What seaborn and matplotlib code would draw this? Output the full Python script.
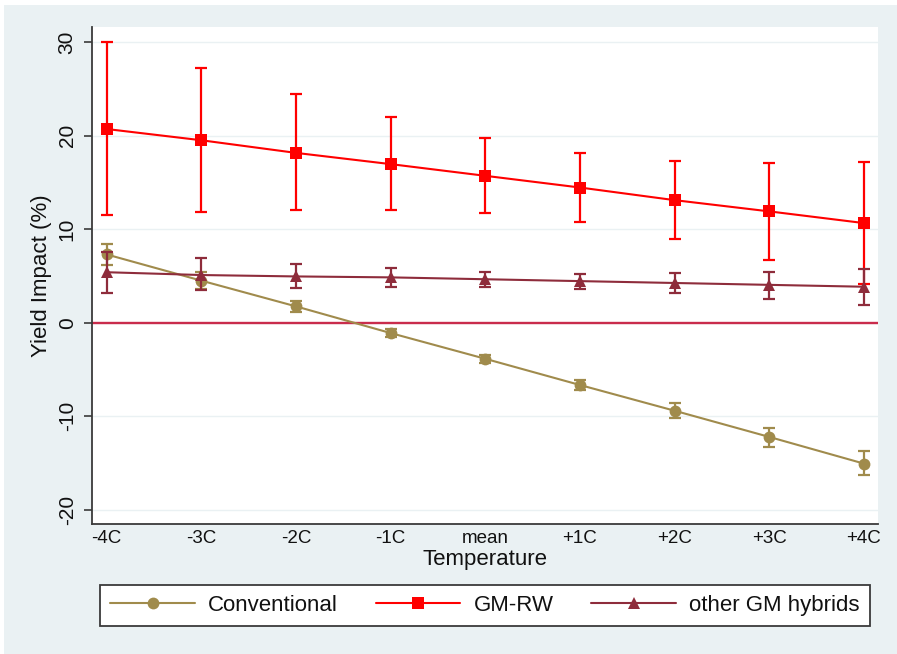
import numpy as np
import pandas as pd
import matplotlib
matplotlib.use("Agg")
import matplotlib.pyplot as plt
from matplotlib.patches import Rectangle
import seaborn as sns

temps = ['-4C', '-3C', '-2C', '-1C', 'mean', '+1C', '+2C', '+3C', '+4C']

conv = [7.3, 4.5, 1.75, -1.1, -3.85, -6.65, -9.4, -12.2, -15.05]
conv_lo = [6.2, 3.6, 1.2, -1.5, -4.25, -7.2, -10.15, -13.25, -16.3]
conv_hi = [8.4, 5.4, 2.3, -0.7, -3.45, -6.1, -8.6, -11.2, -13.75]

gmrw = [20.7, 19.5, 18.15, 16.95, 15.7, 14.45, 13.1, 11.9, 10.65]
gmrw_lo = [11.55, 11.85, 12.0, 12.0, 11.7, 10.75, 9.0, 6.7, 4.1]
gmrw_hi = [30.0, 27.2, 24.45, 21.95, 19.7, 18.1, 17.3, 17.1, 17.15]

other = [5.4, 5.1, 4.95, 4.85, 4.65, 4.45, 4.25, 4.05, 3.85]
other_lo = [3.2, 3.5, 3.7, 3.8, 3.85, 3.6, 3.15, 2.55, 1.95]
other_hi = [7.6, 6.9, 6.3, 5.8, 5.4, 5.2, 5.3, 5.45, 5.7]

series_names = ['Conventional', 'GM-RW', 'other GM hybrids']
colors = ['#A08B4C', '#FF0000', '#8E2C3B']
markers = ['o', 's', '^']

sns.set_theme(style="white")
plt.rcParams['font.family'] = ['Liberation Sans', 'DejaVu Sans']
plt.rcParams['axes.unicode_minus'] = False

fig = plt.figure(figsize=(8.97, 6.54), dpi=100)
fig.patch.set_facecolor('white')
fig.patches.append(Rectangle((4 / 897, 0), 1 - 4 / 897, 1 - 5 / 654,
                             transform=fig.transFigure, facecolor='#EAF1F3',
                             edgecolor='none', zorder=-10))

ax = fig.add_axes([92 / 897, 130 / 654, 786 / 897, 497 / 654])
ax.set_facecolor('white')

xpos = np.arange(len(temps))
data = [(conv, conv_lo, conv_hi), (gmrw, gmrw_lo, gmrw_hi), (other, other_lo, other_hi)]

ax.axhline(0, color='#C92C4C', lw=1.7, zorder=1)

for i, (name, (vals, lo, hi)) in enumerate(zip(series_names, data)):
    df = pd.DataFrame({'Temperature': temps, 'Yield': vals})
    z = 3 + i
    ax.errorbar(xpos, vals,
                yerr=[np.array(vals) - np.array(lo), np.array(hi) - np.array(vals)],
                fmt='none', ecolor=colors[i], elinewidth=1.6, capsize=4,
                capthick=1.6, zorder=z)
    sns.lineplot(data=df, x='Temperature', y='Yield', ax=ax, sort=False,
                 color=colors[i], marker=markers[i], markersize=8.5,
                 markeredgewidth=0, lw=1.5, label=name, zorder=z)

ax.set_xlim(-0.155, 8.148)
ax.set_ylim(-21.5, 31.6)
ax.set_yticks([-20, -10, 0, 10, 20, 30])
ax.set_xticks(xpos)
ax.set_xticklabels(temps)
ax.grid(axis='y', color='#EAF1F3', lw=1.0, zorder=0)
ax.grid(axis='x', visible=False)
for s in ['top', 'right']:
    ax.spines[s].set_visible(False)
for s in ['left', 'bottom']:
    ax.spines[s].set_color('#3A3A3A')
    ax.spines[s].set_linewidth(1.3)

ax.tick_params(axis='x', length=0, pad=4, labelsize=13.5, colors='#111111')
ax.tick_params(axis='y', length=6, width=1.2, color='#3A3A3A', pad=5,
               labelsize=15, labelcolor='#111111', left=True)
for lab in ax.get_yticklabels():
    lab.set_rotation(90)
    lab.set_va('center')

ax.set_xlabel('Temperature', fontsize=16, color='#111111', labelpad=2)
ax.set_ylabel('Yield Impact (%)', fontsize=16, color='#111111')
ax.yaxis.set_label_coords(-0.051, 0.5)

handles, labels = ax.get_legend_handles_labels()
ax.get_legend().remove()
leg = fig.legend(handles, labels, loc='center', ncol=3,
                 bbox_to_anchor=(485 / 897, 1 - 605.5 / 654),
                 fontsize=16, frameon=True, fancybox=False,
                 edgecolor='#3A3A3A', framealpha=1, handlelength=3.8,
                 handletextpad=0.6, columnspacing=1.7, borderpad=0.45,
                 numpoints=1)
leg.get_frame().set_linewidth(1.3)
for t in leg.get_texts():
    t.set_color('#111111')

fig.savefig('out.png', dpi=100, facecolor=fig.get_facecolor())
